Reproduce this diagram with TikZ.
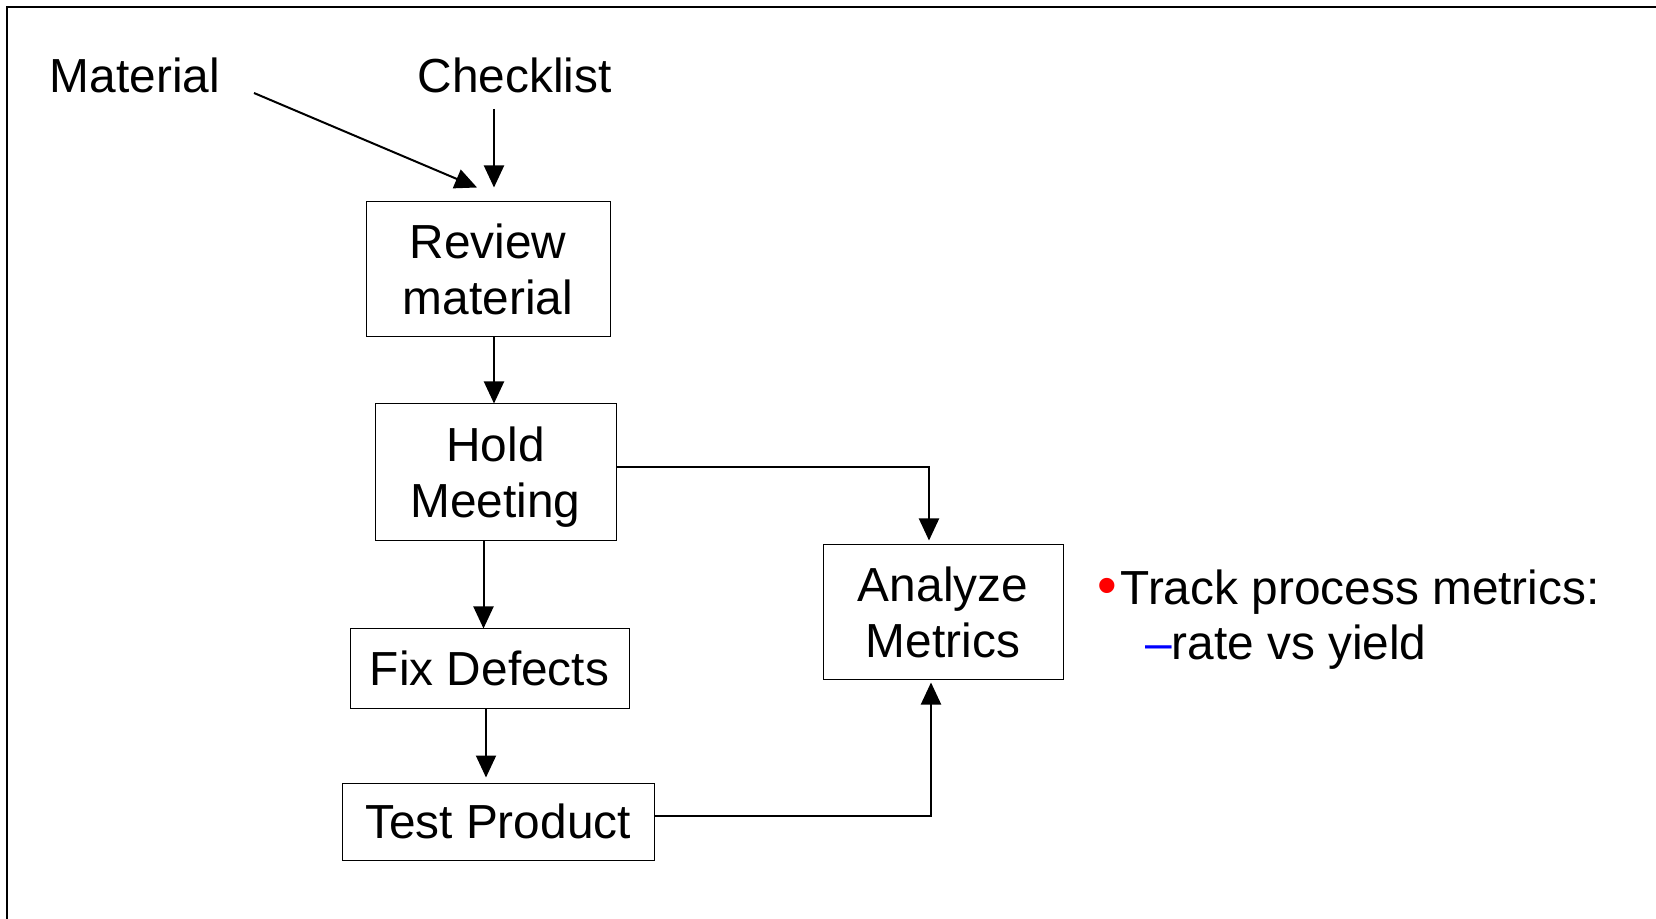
\documentclass[tikz,border=0pt]{standalone}
\usepackage{fontspec}
\setmainfont{Liberation Sans}
\usepackage{tikz}
\usetikzlibrary{arrows.meta}
\tikzstyle{every node}=[font=\fontsize{23.9}{28}\selectfont, inner sep=0pt]
\tikzstyle{box}=[draw, line width=.5pt, align=center]

\begin{document}
\begin{tikzpicture}[>={Triangle[length=11pt,width=10pt]}, x=.5pt, y=-.5pt, line width=1pt]
            \useasboundingbox (0, 0) rectangle (1656, 919);
            \draw [line width=1.3pt] (1656, 7) -- (7, 7) -- (7, 919);

            \node [anchor=base] (material) at (135, 93) {Material};
            \node [anchor=base] (checklist) at (514.5, 93) {Checklist};
            \coordinate (cl) at (494, 109);

            \node [box, minimum width=122pt, minimum height=67.5pt] (review) at (488, 269.5) {Review\\material};
            \node [box, minimum width=120.5pt, minimum height=68.5pt, text depth=0pt] (meeting) at (495.5, 472.5) {Hold\\Meeting};
            \node [box, minimum width=139.5pt, minimum height=39.5pt] (fix) at (489.5, 668.5) {Fix Defects};
            \node [box, minimum width=156pt, minimum height=38.5pt] (test) at (498, 821.5) {Test Product};
            \node [box, minimum width=120pt, minimum height=67.5pt] (analyze) at (943, 612.5) {Analyze\\Metrics};

            \node [anchor=base west] (track) at (1096, 604) {\textcolor{red}{\fontsize{28}{28}\selectfont •}\kern2pt Track process metrics:};
            \node [anchor=base west] (rate) at (1144, 660) {\textcolor{blue}{–}rate vs yield};

            \draw [->] ([xshift=16.5pt]material.base east) -- ([xshift=-5.5pt, yshift=7pt]review.north);
            \draw [->, shorten >=7pt] (cl) -- (cl |- review.north);
            \draw [->] (cl |- review.south) -- (cl |- meeting.north);
            \draw [->] ([xshift=-6pt]meeting.south) -- ([xshift=-3pt]fix.north);
            \draw [->, shorten >=2.5pt] ([xshift=-1.75pt]fix.south) -- ([xshift=-6pt]test.north);
            \draw [->, shorten >=2pt] ([yshift=2.75pt]meeting.east) -| ([xshift=-7pt]analyze.north);
            \draw [->, shorten >=1pt] ([yshift=2.75pt]test.east) -| ([xshift=-6pt]analyze.south);
        \end{tikzpicture}
\end{document}
